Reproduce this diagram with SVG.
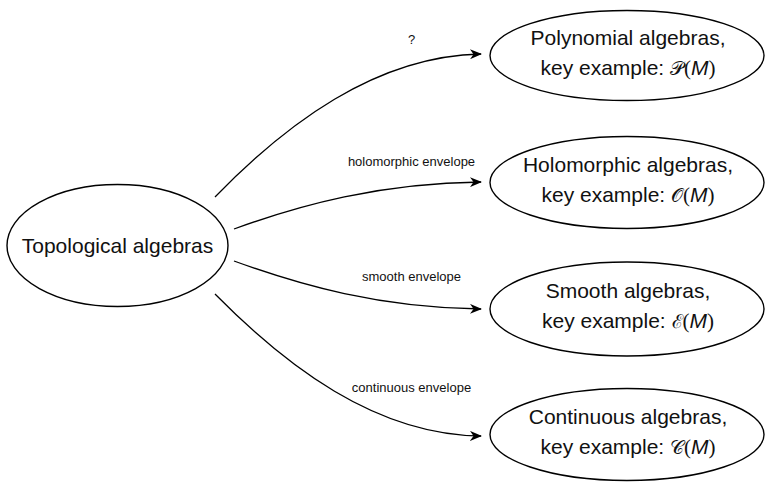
<svg xmlns="http://www.w3.org/2000/svg" width="766" height="482" viewBox="0 0 766 482">
  <style>
    .node ellipse { fill: #ffffff; stroke: #000000; stroke-width: 1.4; }
    .label { font-family: "Liberation Sans", Arial, sans-serif; font-size: 21px; fill: #111111; text-anchor: middle; }
    .cal { font-family: "DejaVu Serif", "Liberation Serif", serif; font-size: 19px; }
    .par { font-family: "Liberation Serif", serif; }
    .it { font-style: italic; }
    .edge { fill: none; stroke: #000000; stroke-width: 1.3; marker-end: url(#arrow); }
    .edge-label { font-family: "Liberation Sans", Arial, sans-serif; font-size: 13px; fill: #111111; text-anchor: middle; }
  </style>
  <defs>
    <marker id="arrow" viewBox="0 0 12 10" refX="11" refY="5" markerWidth="12" markerHeight="10" markerUnits="userSpaceOnUse" orient="auto">
      <path d="M0,0 L12,5 L0,10 L3.5,5 Z" fill="#000000"/>
    </marker>
  </defs>

  <!-- connectors -->
  <g id="connectors">
    <path class="edge" d="M215,197 C285,125 375,56 481,54"/>
    <path class="edge" d="M234,229 C300,205 380,183 481,182"/>
    <path class="edge" d="M234,261 C300,285 380,308 481,309"/>
    <path class="edge" d="M215,294 C285,365 375,435 481,436"/>
    <text class="edge-label" x="411.5" y="44">?</text>
    <text class="edge-label" x="411.5" y="166">holomorphic envelope</text>
    <text class="edge-label" x="411.5" y="281">smooth envelope</text>
    <text class="edge-label" x="411.5" y="392">continuous envelope</text>
  </g>

  <!-- source node -->
  <g id="topological" class="node">
    <ellipse cx="117.5" cy="245.5" rx="110.5" ry="61"/>
    <text class="label" x="117.5" y="252.5">Topological algebras</text>
  </g>

  <!-- target nodes -->
  <g id="polynomial" class="node">
    <ellipse cx="627" cy="55.5" rx="137" ry="45"/>
    <text class="label" x="628" y="44.5">Polynomial algebras,</text>
    <text class="label" x="628" y="74.5">key example: <tspan class="cal">𝒫</tspan><tspan class="par">(</tspan><tspan class="it">M</tspan><tspan class="par">)</tspan></text>
  </g>

  <g id="holomorphic" class="node">
    <ellipse cx="627" cy="182.5" rx="137" ry="46"/>
    <text class="label" x="628" y="172">Holomorphic algebras,</text>
    <text class="label" x="628" y="202">key example: <tspan class="cal">𝒪</tspan><tspan class="par">(</tspan><tspan class="it">M</tspan><tspan class="par">)</tspan></text>
  </g>

  <g id="smooth" class="node">
    <ellipse cx="627" cy="309" rx="137" ry="47"/>
    <text class="label" x="628" y="298">Smooth algebras,</text>
    <text class="label" x="628" y="328">key example: <tspan class="cal">ℰ</tspan><tspan class="par">(</tspan><tspan class="it">M</tspan><tspan class="par">)</tspan></text>
  </g>

  <g id="continuous" class="node">
    <ellipse cx="627" cy="434.5" rx="137" ry="46"/>
    <text class="label" x="628" y="424">Continuous algebras,</text>
    <text class="label" x="628" y="454">key example: <tspan class="cal">𝒞</tspan><tspan class="par">(</tspan><tspan class="it">M</tspan><tspan class="par">)</tspan></text>
  </g>
</svg>
